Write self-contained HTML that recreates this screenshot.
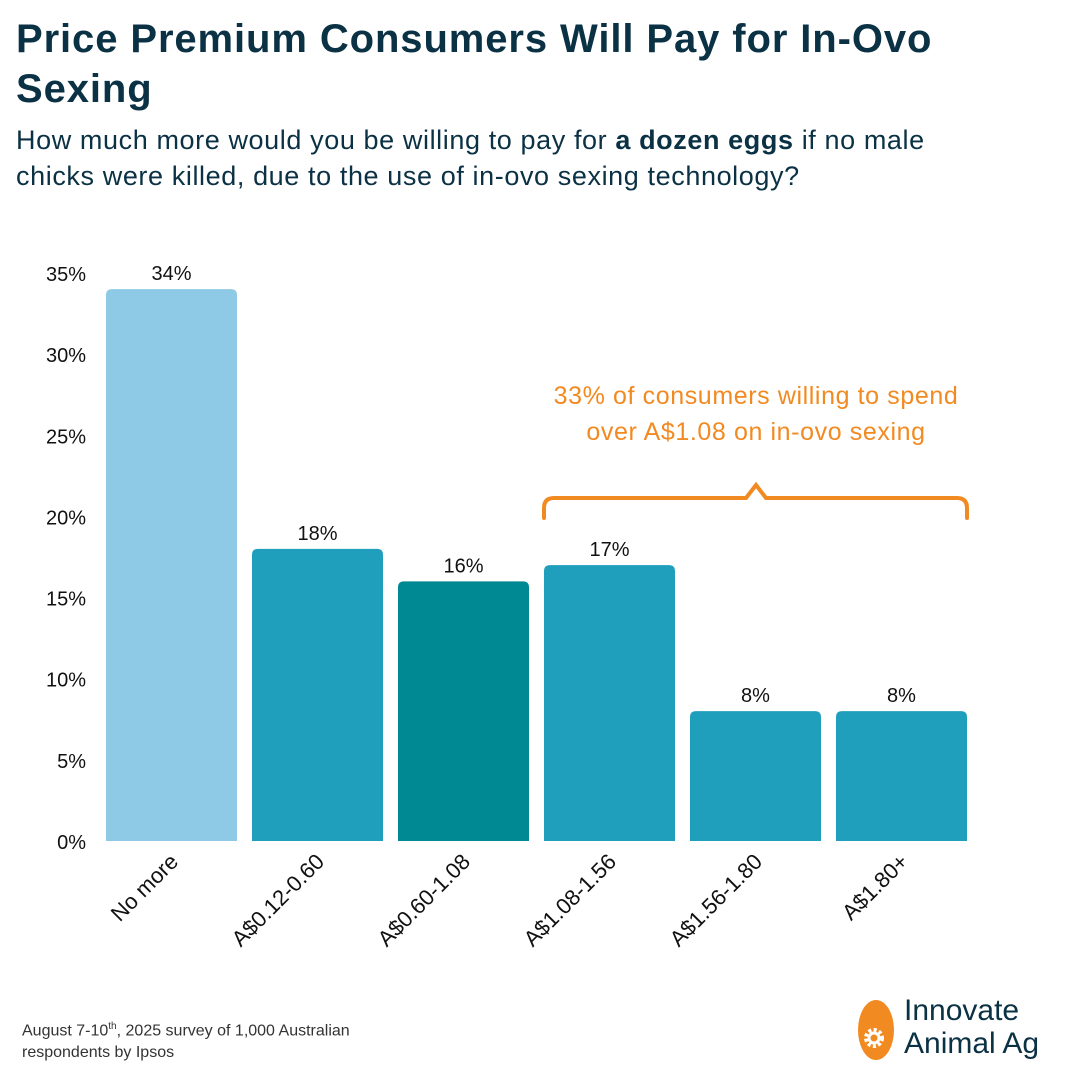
<!DOCTYPE html>
<html><head><meta charset="utf-8"><style>
body{margin:0;width:1080px;height:1080px;background:#fff;font-family:"Liberation Sans",sans-serif;color:#0b3144;position:relative;overflow:hidden}
.t{position:absolute;left:16px;top:14px;font-size:40px;font-weight:bold;line-height:50px;width:990px;letter-spacing:0.9px}
.s{position:absolute;left:16px;top:122px;font-size:27px;line-height:36px;width:990px;letter-spacing:0.6px}
.f{position:absolute;left:22px;top:1016px;font-size:16px;line-height:22px;color:#333}
</style></head><body>
<div class="t">Price Premium Consumers Will Pay for In-Ovo Sexing</div>
<div class="s">How much more would you be willing to pay for <b>a dozen eggs</b> if no male chicks were killed, due to the use of in-ovo sexing technology?</div>
<svg id="c" width="1080" height="1080" style="position:absolute;left:0;top:0"></svg>
<div class="f">August 7-10<sup style="font-size:10px">th</sup>, 2025 survey of 1,000 Australian<br>respondents by Ipsos</div>
<div style="position:absolute;left:856px;top:994px;width:224px;height:70px">
<svg width="44" height="70" style="position:absolute;left:0;top:0"><ellipse cx="20" cy="36" rx="18" ry="30" fill="#f28a22"/><circle cx="18" cy="44" r="8" fill="none" stroke="#fff" stroke-width="4" stroke-dasharray="3 2.3"/><circle cx="18" cy="44" r="5" fill="none" stroke="#fff" stroke-width="3"/></svg>
<div style="position:absolute;left:48px;top:0;font-size:30px;line-height:33px;color:#0b3144">Innovate<br>Animal Ag</div></div>
<script>
const categories=["No more","A$0.12-0.60","A$0.60-1.08","A$1.08-1.56","A$1.56-1.80","A$1.80+"];
const values=[34,18,16,17,8,8];
const colors=["#8ecae6","#1f9fbc","#008893","#1f9fbc","#1f9fbc","#1f9fbc"];
const ticks=[0,5,10,15,20,25,30,35];
const svg=document.getElementById('c');const NS='http://www.w3.org/2000/svg';
const y0=841,per=16.23,x0=106,step=146,bw=131;
const y=v=>y0-v*per, x=i=>x0+i*step;
function el(t,a,txt){const e=document.createElementNS(NS,t);for(const k in a)e.setAttribute(k,a[k]);if(txt!=null)e.textContent=txt;svg.appendChild(e);return e;}
ticks.forEach(t=>{const e=el('text',{x:86,y:y(t)+8,'text-anchor':'end','font-size':20,fill:'#111'},t+'%');

});
values.forEach((v,i)=>{const X=x(i),Y=y(v),r=6;
const b=el('path',{d:`M${X},${y0}V${Y+r}Q${X},${Y} ${X+r},${Y}H${X+bw-r}Q${X+bw},${Y} ${X+bw},${Y+r}V${y0}Z`,fill:colors[i]});


const l=el('text',{x:X+bw/2,y:Y-9,'text-anchor':'middle','font-size':20,fill:'#111'},v+'%');


const c=X+bw/2+8,cy=y0+22;
const t=el('text',{x:c,y:cy,'text-anchor':'end','font-size':22,fill:'#111',transform:`rotate(-45 ${c} ${cy})`},categories[i]);

});
const br=el('path',{d:`M${x(3)},518V508Q${x(3)},498 ${x(3)+10},498H746L756,485L766,498H${x(5)+bw-10}Q${x(5)+bw},498 ${x(5)+bw},508V518`,fill:'none',stroke:'#f28a22','stroke-width':4,'stroke-linecap':'round'});


[["33% of consumers willing to spend",404],["over A$1.08 on in-ovo sexing",440]].forEach(a=>{const t=el('text',{x:756,y:a[1],'text-anchor':'middle','font-size':25,'letter-spacing':0.6,fill:'#f28a22'},a[0]);

});
</script>
</body></html>
